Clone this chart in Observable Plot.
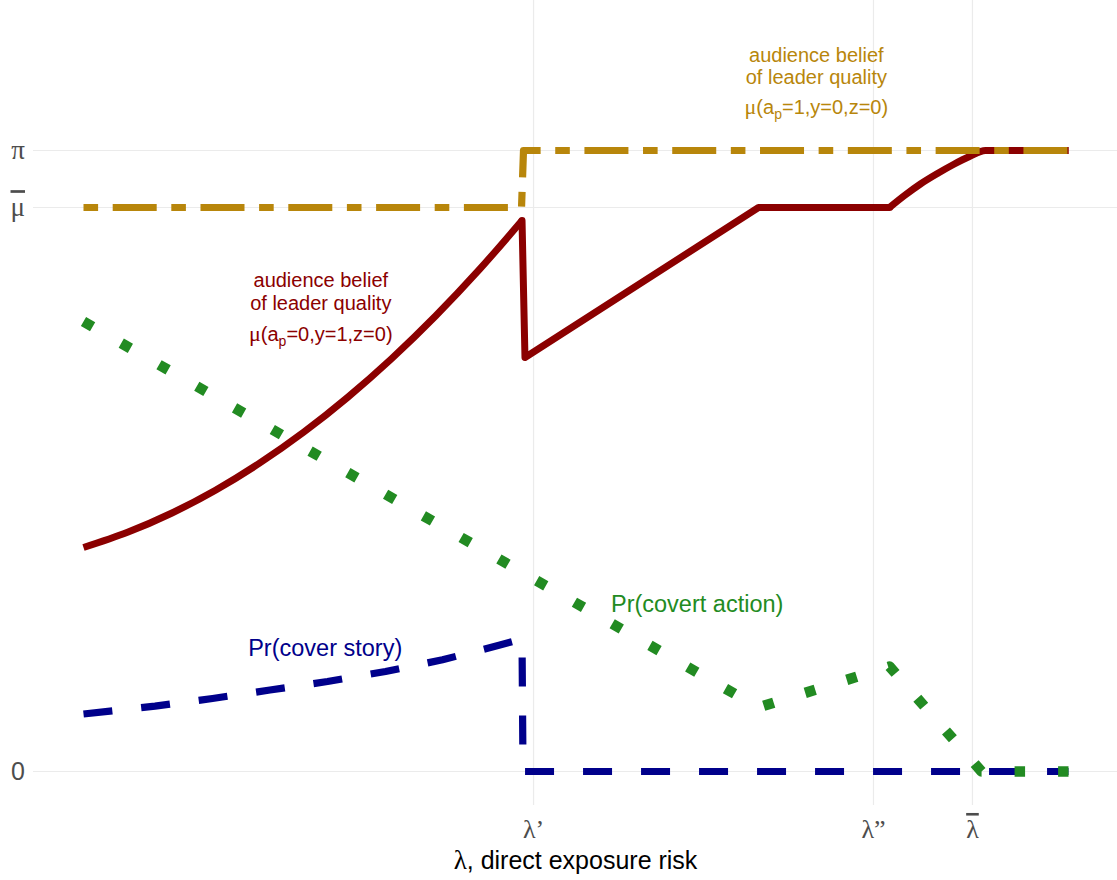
<!DOCTYPE html>
<html>
<head>
<meta charset="utf-8">
<script src="https://cdn.jsdelivr.net/npm/d3@7"></script>
<script src="https://cdn.jsdelivr.net/npm/@observablehq/plot@0.6"></script>
<style>
  body { margin: 0; background: #fff; }
  #chart svg { display: block; }
</style>
</head>
<body>
<div id="chart"></div>
<script>
// λ (direct exposure risk) runs from 0 to 1 over the plotted range;
// beliefs and probabilities are on a scale where π = 1.

// Axis ticks (U+0305 marks a label drawn with a bar over it)
const xTicks = [0.4569, 0.8020, 0.9025];
const xTickLabels = ["λ\u2019", "λ\u201D", "λ\u0305"];
const yTicks = [0, 0.9082, 1];
const yTickLabels = ["0", "μ\u0305", "π"];

// μ(a_p=0, y=1, z=0): audience belief after no action and a public signal
const beliefNoActionX = [0, 0.0447, 0.0893, 0.1340, 0.1787, 0.2234, 0.2680, 0.3127, 0.3574, 0.4020, 0.4452,
                         0.4482, 0.6853, 0.8183, 0.8335, 0.8497, 0.8670, 0.8832, 0.8995, 0.9157, 1];
const beliefNoActionY = [0.3607, 0.3852, 0.4159, 0.4530, 0.4965, 0.5462, 0.6023, 0.6647, 0.7335, 0.8085, 0.8873,
                         0.6667, 0.9082, 0.9082, 0.9275, 0.9461, 0.9630, 0.9775, 0.9903, 1, 1];
// smooth stretches and straight stretches of that curve (point index ranges)
const beliefNoActionPieces = [
  {from: 0,  to: 10, curve: "monotone-x", cap: "butt"},
  {from: 10, to: 13, curve: "linear",     cap: "round"},
  {from: 13, to: 20, curve: "monotone-x", cap: "butt"}
];

// μ(a_p=1, y=0, z=0): audience belief after action
const beliefActionX = [0, 0.4447, 0.4467, 1];
const beliefActionY = [0.9082, 0.9082, 1, 1];

// Pr(covert action)
const covertX = [0, 0.6853, 0.8183, 0.9117, 1];
const covertY = [0.7246, 0.1031, 0.1691, 0, 0];

// Pr(cover story)
const coverStoryX = [0, 0.0726, 0.1310, 0.1893, 0.2477, 0.3066, 0.3645, 0.4218, 0.4452, 0.4462, 1];
const coverStoryY = [0.0926, 0.1052, 0.1176, 0.1312, 0.1449, 0.1610, 0.1799, 0.2032, 0.2134, 0, 0];

// Curve annotations (text, series, anchor point)
const labelText = ["audience belief", "of leader quality", "μ(a_p=1,y=0,z=0)",
                   "audience belief", "of leader quality", "μ(a_p=0,y=1,z=0)",
                   "Pr(covert action)", "Pr(cover story)"];
const labelSeries = ["beliefAction", "beliefAction", "beliefAction",
                     "beliefNoAction", "beliefNoAction", "beliefNoAction",
                     "covert", "coverStory"];
const labelX = [0.744, 0.744, 0.744, 0.2409, 0.2409, 0.2409, 0.6230, 0.2454];
const labelY = [1.1433, 1.1063, 1.0580, 0.7794, 0.7424, 0.6940, 0.2565, 0.1852];

const axisTitle = "λ, direct exposure risk";

// Line styles for each series
const styles = {
  beliefNoAction: {color: "#8B0000", width: 7,    dash: null,                 labelSize: 20},
  coverStory:     {color: "#00008B", width: 7.2,  dash: "29,29",              labelSize: 23.5},
  beliefAction:   {color: "#B8860B", width: 7.2,  dash: "14.6,14.6,44,14.6",  labelSize: 20},
  covert:         {color: "#228B22", width: 10.5, dash: "10.5,33",            labelSize: 23.5}
};

const sans = "'Liberation Sans', Arial, Helvetica, sans-serif";
const serif = "'Liberation Serif', 'Times New Roman', 'DejaVu Serif', serif";

const toRows = (xs, ys) => xs.map((x, i) => ({x, y: ys[i]}));
const lineOf = (rows, key, opts = {}) => {
  const st = styles[key];
  return Plot.line(rows, {
    x: "x", y: "y",
    stroke: st.color,
    strokeWidth: st.width,
    strokeDasharray: st.dash ?? undefined,
    strokeLinecap: "butt",
    strokeLinejoin: "round",
    ...opts
  });
};

const beliefNoActionRows = toRows(beliefNoActionX, beliefNoActionY);
const lineMarks = [
  ...beliefNoActionPieces.map(p =>
    lineOf(beliefNoActionRows.slice(p.from, p.to + 1), "beliefNoAction", {curve: p.curve, strokeLinecap: p.cap})),
  // the flat stretch at π after the curve
  lineOf(beliefNoActionRows.slice(19), "beliefNoAction"),
  lineOf(toRows(coverStoryX, coverStoryY), "coverStory"),
  lineOf(toRows(beliefActionX, beliefActionY), "beliefAction"),
  lineOf(toRows(covertX, covertY), "covert")
];

const labels = labelText.map((text, i) => ({text, key: labelSeries[i], x: labelX[i], y: labelY[i]}));
const labelMarks = Object.keys(styles).map(key => Plot.text(labels.filter(d => d.key === key), {
  x: "x", y: "y", text: "text",
  fill: styles[key].color,
  fontSize: styles[key].labelSize,
  fontFamily: sans,
  textAnchor: "middle",
  lineAnchor: "bottom"
}));

const chart = Plot.plot({
  width: 1117,
  height: 880,
  marginLeft: 33,
  marginRight: 0,
  marginTop: 0,
  marginBottom: 75,
  x: {domain: [0, 1], range: [83, 1068]},
  y: {domain: [0, 1], range: [771, 150]},
  style: {background: "white", fontFamily: sans, overflow: "visible"},
  marks: [
    // panel grid at the marked values
    Plot.ruleY(yTicks, {stroke: "#EBEBEB", strokeWidth: 1.2}),
    Plot.ruleX(xTicks, {stroke: "#EBEBEB", strokeWidth: 1.2}),
    ...lineMarks,
    ...labelMarks,
    Plot.axisX(xTicks, {
      tickSize: 0, tickPadding: 14, label: null,
      tickFormat: d => xTickLabels[xTicks.indexOf(d)],
      fontSize: 26, fontFamily: serif, color: "#4D4D4D"
    }),
    Plot.axisY(yTicks.slice(0, 1), {
      tickSize: 0, tickPadding: 8.5, label: null,
      tickFormat: d => yTickLabels[yTicks.indexOf(d)],
      fontSize: 25, fontFamily: sans, color: "#4D4D4D"
    }),
    Plot.axisY(yTicks.slice(1), {
      tickSize: 0, tickPadding: 8.5, label: null,
      tickFormat: d => yTickLabels[yTicks.indexOf(d)],
      fontSize: 27, fontFamily: serif, color: "#4D4D4D"
    }),
    Plot.text([axisTitle], {
      text: d => d, frameAnchor: "bottom", dy: 63,
      lineAnchor: "bottom", fontSize: 25, fontFamily: sans, fill: "#000"
    })
  ]
});

const NS = "http://www.w3.org/2000/svg";
const tspan = (text, attrs = {}) => {
  const el = document.createElementNS(NS, "tspan");
  el.textContent = text;
  for (const [k, v] of Object.entries(attrs)) el.setAttribute(k, v);
  return el;
};

chart.querySelectorAll("text").forEach(t => {
  const s = t.textContent;
  // barred tick labels: draw the bar as an overline
  if (s.includes("\u0305")) {
    t.textContent = s.replace(/\u0305/g, "");
    t.style.textDecoration = "overline";
    t.style.textDecorationThickness = "1.5px";
    return;
  }
  // "μ(a_p=…)": Greek μ in the serif face, p as a subscript
  const m = s.match(/^(μ)(.*?)_(\w)(.*)$/);
  if (m) {
    t.textContent = "";
    t.append(
      tspan(m[1], {"font-family": serif, "font-size": 22}),
      tspan(m[2]),
      tspan(m[3], {"font-size": 14, dy: 5}),
      tspan(m[4], {dy: -5})
    );
    return;
  }
  // axis title: Greek λ in the serif face
  if (s.startsWith("λ,")) {
    t.textContent = "";
    t.append(tspan("λ", {"font-family": serif, "font-size": 27}), tspan(s.slice(1)));
  }
});

document.getElementById("chart").appendChild(chart);
</script>
</body>
</html>
